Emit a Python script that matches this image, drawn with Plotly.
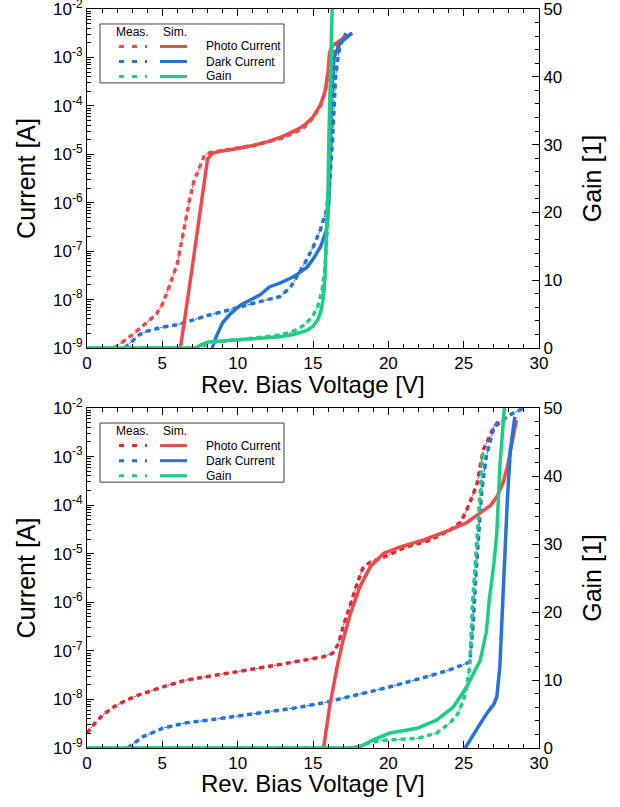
import numpy as np
import plotly.graph_objects as go

# ---------------- data ----------------
# Top panel -- currents are stored as log10(I [A]), gain as-is
top_photo_meas_v = [1.8, 2.5, 3.0, 3.5, 4.2, 4.6, 5.0, 5.5, 6.0, 6.2, 6.5, 6.8, 7.1, 7.5, 7.8, 8.2,
                    9, 10, 11, 12, 13, 14, 14.5, 15, 15.5, 15.8, 16.0, 16.2, 16.4, 16.7, 17.0, 17.3]
top_photo_meas_log = [-9.0, -8.85, -8.73, -8.6, -8.42, -8.3, -8.1, -7.7, -7.25, -6.95, -6.45, -5.95,
                      -5.55, -5.25, -5.02, -4.96, -4.92, -4.87, -4.82, -4.74, -4.66, -4.52, -4.42, -4.25,
                      -4.0, -3.72, -3.45, -3.1, -2.85, -2.7, -2.6, -2.5]
top_photo_sim_v = [6.2, 6.5, 7.0, 7.5, 7.8, 8.0, 8.3, 9, 10, 11, 12, 13, 14, 14.5, 15, 15.5, 15.8, 16.0,
                   16.1, 16.3, 16.8, 17.3, 17.6]
top_photo_sim_log = [-9.0, -8.4, -7.3, -6.2, -5.5, -5.1, -4.98, -4.93, -4.88, -4.82, -4.74, -4.63, -4.48,
                     -4.38, -4.23, -3.98, -3.7, -3.3, -2.9, -2.75, -2.65, -2.55, -2.5]
top_dark_meas_v = [2.5, 3.0, 3.5, 4.0, 5.0, 6.0, 7.0, 8.0, 9.0, 10.0, 11.0, 12.0, 12.8, 13.5, 14.0, 14.5,
                   15.0, 15.5, 15.9, 16.1, 16.3, 16.5, 16.7, 17.0, 17.2]
top_dark_meas_log = [-9.0, -8.85, -8.72, -8.65, -8.57, -8.52, -8.42, -8.33, -8.25, -8.16, -8.08, -8.0,
                     -7.94, -7.75, -7.5, -7.22, -6.92, -6.55, -6.15, -5.6, -4.7, -3.4, -2.9, -2.6, -2.5]
top_dark_sim_v = [8.3, 8.6, 9.0, 9.5, 10.2, 11.0, 11.5, 12.1, 12.8, 13.5, 14.0, 14.6, 15.0, 15.5, 15.9,
                  16.05, 16.15, 16.25, 16.4, 16.8, 17.3, 17.6]
top_dark_sim_log = [-9.0, -8.75, -8.48, -8.3, -8.11, -7.98, -7.9, -7.74, -7.66, -7.56, -7.47, -7.33,
                    -7.17, -6.91, -6.56, -6.0, -5.0, -3.8, -3.0, -2.7, -2.57, -2.5]
top_gain_meas_v = [0, 7.5, 8.0, 8.5, 9.5, 10.5, 11.5, 12.5, 13.5, 14.0, 14.5, 15.0, 15.3, 15.6, 15.8,
                   16.0, 16.1, 16.2, 16.3]
top_gain_meas = [0, 0, 0.6, 0.9, 1.1, 1.3, 1.5, 1.8, 2.3, 2.8, 3.5, 4.8, 6.0, 8.5, 12, 20, 28, 37, 45]
top_gain_sim_v = [0, 7.2, 7.6, 8.0, 8.4, 9.5, 10.6, 11.7, 12.8, 13.7, 14.6, 15.0, 15.3, 15.5, 15.7,
                  15.8, 15.9, 16.0, 16.05, 16.1, 16.2, 16.27]
top_gain_sim = [0, 0, 0.5, 0.85, 0.95, 1.1, 1.25, 1.4, 1.65, 2.0, 2.6, 3.2, 4.1, 5.2, 7.5, 10.5, 15.9,
                24, 30.7, 36, 45.4, 50]

# Bottom panel
bot_photo_meas_v = [0, 0.5, 1.05, 1.8, 2.65, 3.4, 4.2, 5.05, 6.6, 8.2, 10.0, 11.9, 13.7, 15.0, 15.7,
                    16.3, 16.7, 17.0, 17.4, 17.7, 18.0, 18.3, 18.8, 19.7, 21.2, 22.8, 24.1, 24.8, 25.2,
                    25.6, 25.9, 26.1, 26.3, 26.7, 27.0, 27.4]
bot_photo_meas_log = [-8.69, -8.5, -8.32, -8.15, -8.01, -7.91, -7.83, -7.74, -7.6, -7.52, -7.44, -7.33,
                      -7.23, -7.16, -7.12, -7.05, -6.85, -6.5, -6.1, -5.81, -5.55, -5.3, -5.17, -5.07,
                      -4.86, -4.72, -4.51, -4.35, -4.1, -3.8, -3.54, -3.2, -2.86, -2.6, -2.39, -2.25]
bot_photo_sim_v = [15.7, 16.1, 16.6, 17.0, 17.5, 18.1, 18.8, 19.7, 20.8, 22.3, 24.1, 25.2, 26.1, 26.8,
                   27.2, 27.6, 27.9, 28.2, 28.5]
bot_photo_sim_log = [-9.0, -8.15, -7.33, -6.77, -6.22, -5.69, -5.27, -4.99, -4.86, -4.72, -4.51, -4.36,
                     -4.16, -4.0, -3.83, -3.55, -3.21, -2.75, -2.25]
bot_dark_meas_v = [2.7, 3.7, 5.05, 6.6, 8.2, 10.0, 11.9, 13.7, 15.7, 18.1, 20.0, 22.0, 24.0, 25.4, 25.6,
                   25.8, 26.0, 26.2, 26.5, 27.0, 28.0, 29.0]
bot_dark_meas_log = [-9.0, -8.77, -8.59, -8.48, -8.42, -8.34, -8.27, -8.18, -8.07, -7.9, -7.75, -7.58,
                     -7.4, -7.23, -6.6, -5.5, -4.5, -3.7, -3.0, -2.4, -2.15, -2.0]
bot_dark_sim_v = [25.1, 25.5, 25.9, 26.3, 26.7, 27.0, 27.2, 27.4, 27.6, 27.75, 27.9, 28.1, 28.4]
bot_dark_sim_log = [-9.0, -8.8, -8.57, -8.4, -8.22, -8.1, -7.95, -7.33, -5.95, -4.9, -3.89, -2.86, -2.18]
bot_gain_meas_v = [0, 18.0, 18.6, 19.2, 20.1, 21.0, 21.9, 23.2, 24.1, 24.6, 25.0, 25.2, 25.4, 25.6,
                   25.9, 26.1, 26.3]
bot_gain_meas = [0, 0, 0.7, 1.0, 1.2, 1.3, 1.4, 2.2, 3.7, 5.0, 7.1, 9.0, 12, 21.8, 31.6, 39, 44]
bot_gain_sim_v = [0, 17.5, 18.2, 19.0, 20.1, 21.0, 21.9, 23.2, 24.3, 25.2, 26.1, 26.5, 26.7, 27.0, 27.2,
                  27.4, 27.7]
bot_gain_sim = [0, 0, 0.3, 1.2, 2.2, 2.6, 2.9, 4.1, 6.0, 9.0, 12.9, 17, 21.8, 27, 31.6, 41.4, 50]

legend_labels = ["Photo Current", "Dark Current", "Gain"]
current_exponents = [-9, -8, -7, -6, -5, -4, -3, -2]
x_title = "Rev. Bias Voltage [V]"

# ---------------- styling ----------------
RED = "#EC4B4B"
RED_MEAS_BOT = "#E8262B"
BLUE = "#2473D9"
GREEN = "#1ECC85"
FONT = "Liberation Sans, Arial, sans-serif"
MEAS_DASH = "5px,4px"

fig = go.Figure()


def meas(x, y, color, thin_color, xa, ya):
    fig.add_trace(go.Scatter(x=x, y=y, mode="lines", xaxis=xa, yaxis=ya, showlegend=False,
                             line=dict(color=thin_color, width=1, dash="dot"), hoverinfo="skip"))
    fig.add_trace(go.Scatter(x=x, y=y, mode="lines", xaxis=xa, yaxis=ya, showlegend=False,
                             line=dict(color=color, width=3.5, dash=MEAS_DASH)))


def sim(x, y, color, xa, ya):
    fig.add_trace(go.Scatter(x=x, y=y, mode="lines", xaxis=xa, yaxis=ya, showlegend=False,
                             line=dict(color=color, width=3.5)))


p = lambda a: list(10.0 ** np.array(a))

# top panel
meas(top_photo_meas_v, p(top_photo_meas_log), RED, RED, "x", "y")
meas(top_dark_meas_v, p(top_dark_meas_log), BLUE, BLUE, "x", "y")
sim(top_photo_sim_v, p(top_photo_sim_log), RED, "x", "y")
sim(top_dark_sim_v, p(top_dark_sim_log), BLUE, "x", "y")
meas(top_gain_meas_v, top_gain_meas, GREEN, GREEN, "x", "y2")
sim(top_gain_sim_v, top_gain_sim, GREEN, "x", "y2")

# bottom panel
meas(bot_photo_meas_v, p(bot_photo_meas_log), RED_MEAS_BOT, BLUE, "x2", "y3")
meas(bot_dark_meas_v, p(bot_dark_meas_log), BLUE, BLUE, "x2", "y3")
sim(bot_photo_sim_v, p(bot_photo_sim_log), RED, "x2", "y3")
sim(bot_dark_sim_v, p(bot_dark_sim_log), BLUE, "x2", "y3")
meas(bot_gain_meas_v, bot_gain_meas, GREEN, GREEN, "x2", "y4")
sim(bot_gain_sim_v, bot_gain_sim, GREEN, "x2", "y4")

tickvals = [10.0 ** e for e in current_exponents]
ticktext = ["10<sup>%d</sup>" % e for e in current_exponents]
minor_vals = [m * 10.0 ** e for e in current_exponents[:-1] for m in range(2, 10)]

TICKFONT = dict(size=17, family=FONT, color="black")
TITLEFONT = dict(size=25, family=FONT, color="black")
XTITLEFONT = dict(size=24, family=FONT, color="black")
common_x = dict(range=[0, 30], dtick=5, tick0=0, ticks="inside", ticklen=7, tickcolor="black",
                minor=dict(dtick=1, ticks="inside", ticklen=4, tickcolor="black"),
                showline=True, linecolor="black", linewidth=1, mirror="ticks", automargin=False,
                showgrid=False, zeroline=False, tickfont=TICKFONT, ticklabeloverflow="allow")
common_y = dict(type="log", range=[-9, -2], tickmode="array", tickvals=tickvals, ticktext=ticktext,
                ticks="inside", ticklen=7, tickcolor="black", automargin=False,
                minor=dict(tickmode="array", tickvals=minor_vals, ticks="inside", ticklen=4,
                           tickcolor="black"),
                showline=True, linecolor="black", linewidth=1, showgrid=False, zeroline=False,
                tickfont=TICKFONT, ticklabeloverflow="allow",
                title=dict(text="Current [A]", font=TITLEFONT, standoff=10))
common_g = dict(range=[0, 50], dtick=10, ticks="inside", ticklen=7, tickcolor="black", automargin=False,
                minor=dict(dtick=2, ticks="inside", ticklen=4, tickcolor="black"),
                showline=True, linecolor="black", linewidth=1, showgrid=False, zeroline=False,
                side="right", tickfont=TICKFONT, ticklabeloverflow="allow",
                title=dict(text="Gain [1]", font=TITLEFONT, standoff=22))

top_dom = [1 - 339 / 739, 1.0]
bot_dom = [0.0, 1 - 399 / 739]

fig.update_layout(
    width=620, height=807,
    margin=dict(l=87, r=81, t=9, b=59, autoexpand=False),
    paper_bgcolor="white", plot_bgcolor="white",
    font=dict(family=FONT, color="black"),
    showlegend=False,
    xaxis=dict(domain=[0, 1], anchor="y", **common_x),
    yaxis=dict(domain=top_dom, anchor="x", **common_y),
    yaxis2=dict(overlaying="y", anchor="x", **common_g),
    xaxis2=dict(domain=[0, 1], anchor="y3", **common_x),
    yaxis3=dict(domain=bot_dom, anchor="x2", **common_y),
    yaxis4=dict(overlaying="y3", anchor="x2", **common_g),
)

# x-axis titles placed below each panel
fig.add_annotation(xref="x domain", yref="y domain", x=0.5, y=-0.108, text=x_title, showarrow=False,
                   xanchor="center", yanchor="middle", font=XTITLEFONT)
fig.add_annotation(xref="x2 domain", yref="y3 domain", x=0.5, y=-0.104, text=x_title, showarrow=False,
                   xanchor="center", yanchor="middle", font=XTITLEFONT)

# ---------------- hand-built legends ----------------
colors_meas = [[RED, BLUE, GREEN], [RED_MEAS_BOT, BLUE, GREEN]]
colors_sim = [RED, BLUE, GREEN]
for k, yr in enumerate(["y domain", "y3 domain"]):
    xr = "x domain" if k == 0 else "x2 domain"
    fig.add_shape(type="rect", xref=xr, yref=yr,
                  x0=0.0288, x1=0.4358, y0=0.782, y1=0.9558,
                  line=dict(color="#404040", width=1), fillcolor="white")
    fig.add_annotation(xref=xr, yref=yr, x=0.0996, y=0.932, text="Meas.", showarrow=False,
                       xanchor="center", yanchor="middle",
                       font=dict(size=12, family=FONT, color="black"))
    fig.add_annotation(xref=xr, yref=yr, x=0.1947, y=0.932, text="Sim.", showarrow=False,
                       xanchor="center", yanchor="middle",
                       font=dict(size=12, family=FONT, color="black"))
    for i, (lab, yy) in enumerate(zip(legend_labels, [0.8894, 0.8451, 0.8009])):
        fig.add_shape(type="line", xref=xr, yref=yr, x0=0.0708, x1=0.1327, y0=yy, y1=yy,
                      line=dict(color=colors_meas[k][i], width=3, dash="5px,8px,5px,8px,2px"))
        fig.add_shape(type="line", xref=xr, yref=yr, x0=0.1615, x1=0.2212, y0=yy, y1=yy,
                      line=dict(color=colors_sim[i], width=3))
        fig.add_annotation(xref=xr, yref=yr, x=0.2588, y=yy, text=lab, showarrow=False,
                           xanchor="left", yanchor="middle",
                           font=dict(size=12, family=FONT, color="black"))

# remove the default 8px page margin so the 620x807 figure fills the window exactly
fig.write_html("out.html", config={"displayModeBar": False},
               post_script="document.body.style.margin='0';document.body.style.overflow='hidden';")
